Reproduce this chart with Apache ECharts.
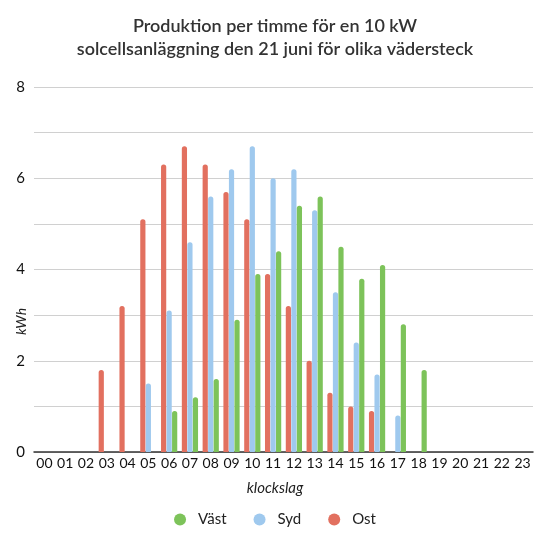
<!DOCTYPE html>
<html>
<head>
<meta charset="utf-8">
<script src="https://cdn.jsdelivr.net/npm/echarts@6/dist/echarts.min.js"></script>
<style>html,body{margin:0;padding:0;background:#fff}#c{width:550px;height:550px}</style>
</head>
<body>
<div id="c"></div>
<script>
var hours = ['00','01','02','03','04','05','06','07','08','09','10','11','12','13','14','15','16','17','18','19','20','21','22','23'];
var ost  = [0,0,0,1.8,3.2,5.1,6.3,6.7,6.3,5.7,5.1,3.9,3.2,2.0,1.3,1.0,0.9,0,0,0,0,0,0,0];
var syd  = [0,0,0,0,0,1.5,3.1,4.6,5.6,6.2,6.7,6.0,6.2,5.3,3.5,2.4,1.7,0.8,0,0,0,0,0,0];
var vast = [0,0,0,0,0,0,0.9,1.2,1.6,2.9,3.9,4.4,5.4,5.6,4.5,3.8,4.1,2.8,1.8,0,0,0,0,0];
var seriesNames = ['Ost','Syd','Väst'];
var seriesValues = [ost, syd, vast];
var colors = ['#e2705f','#9fc9ee','#7dc35a'];
var yTicks = [0,2,4,6,8];

var series = seriesNames.map(function(name, si){
  return {
    name: name,
    type: 'bar',
    barWidth: 5.2,
    barGap: '6%',
    itemStyle: {color: colors[si], borderRadius: [2.5, 2.5, 0, 0]},
    data: seriesValues[si].map(function(v){ return v > 0 ? v : null; })
  };
});

var chart = echarts.init(document.getElementById('c'), null, {renderer: 'canvas'});
chart.setOption({
  animation: false,
  textStyle: {fontFamily: 'Lato'},
  title: {
    text: 'Produktion per timme för en 10 kW\nsolcellsanläggning den 21 juni för olika vädersteck',
    left: 'center', top: 10,
    textStyle: {fontFamily: 'Lato', fontSize: 18, fontWeight: 600, color: '#333', lineHeight: 23}
  },
  legend: {
    data: ['Väst','Syd','Ost'],
    top: 507, left: 'center',
    icon: 'circle', itemWidth: 26, itemHeight: 12, itemGap: 27,
    textStyle: {fontFamily: 'Lato', fontSize: 15, color: '#222'}
  },
  grid: {left: 34, right: 17, top: 87, bottom: 98, outerBoundsMode: 'none', containLabel: false},
  xAxis: {
    type: 'category',
    data: hours,
    name: 'klockslag', nameLocation: 'middle', nameGap: 29, nameMoveOverlap: false,
    nameTextStyle: {fontFamily: 'Lato', fontStyle: 'italic', fontSize: 15, color: '#222', padding: [0, 17, 0, 0]},
    axisLine: {lineStyle: {color: '#333', width: 1.5}},
    axisTick: {show: false},
    axisLabel: {fontFamily: 'Lato', fontSize: 14, color: '#111', margin: 4, interval: 0},
    splitLine: {show: false}
  },
  yAxis: {
    type: 'value', min: 0, max: 8, interval: 1,
    name: 'kWh', nameLocation: 'middle', nameRotate: 90, nameGap: 6, nameMoveOverlap: false,
    nameTextStyle: {fontFamily: 'Lato', fontStyle: 'italic', fontSize: 14, color: '#222', padding: [0, 104, 0, 0]},
    axisLine: {show: false}, axisTick: {show: false},
    axisLabel: {fontFamily: 'Lato', fontSize: 15, color: '#111', margin: 9,
      formatter: function(v){ return yTicks.indexOf(v) >= 0 ? String(v) : ''; }},
    splitLine: {lineStyle: {color: '#d0d0d0', width: 1}}
  },
  series: series
});
</script>
</body>
</html>
